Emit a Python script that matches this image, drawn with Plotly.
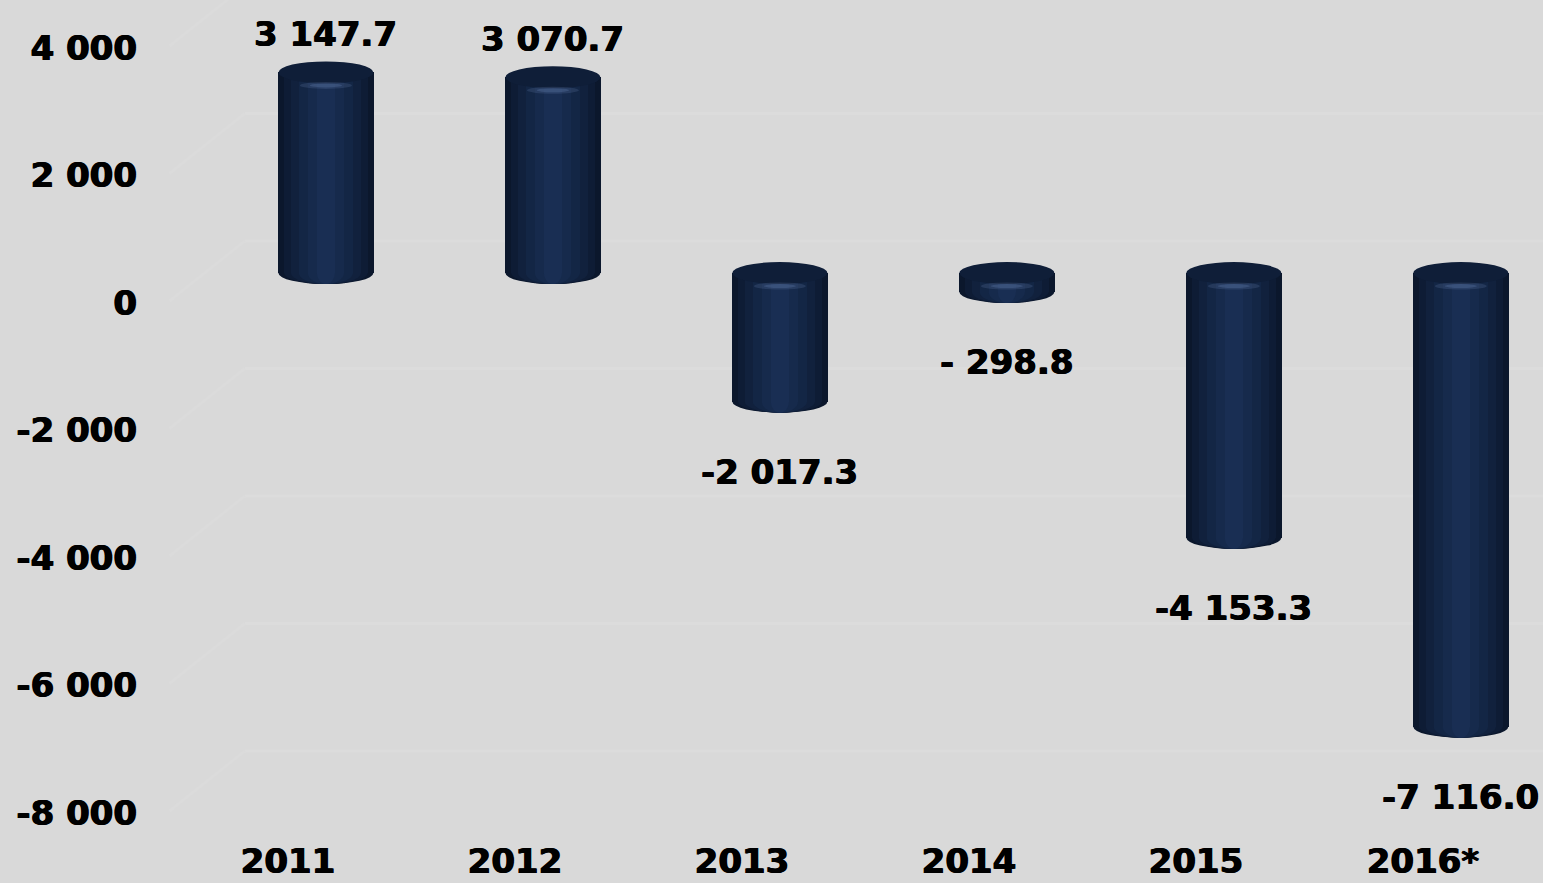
import plotly.graph_objects as go

# Balance by year (values shown above / below each column)
years = ["2011", "2012", "2013", "2014", "2015", "2016*"]
values = [3147.7, 3070.7, -2017.3, -298.8, -4153.3, -7116.0]
value_labels = ["3 147.7", "3 070.7", "-2 017.3", "- 298.8", "-4 153.3", "-7 116.0"]

# Value axis ticks
y_ticks = [4000, 2000, 0, -2000, -4000, -6000, -8000]
y_tick_labels = ["4 000", "2 000", "0", "-2 000", "-4 000", "-6 000", "-8 000"]

BG = "#d9d9d9"
FONT = dict(family="DejaVu Sans", size=34, color="#000000", weight="bold",
            shadow="0.6px 0 0 #000, -0.6px 0 0 #000")

# Columns sit a little deeper in the scene: shifted right of their category
# label and raised relative to the value scale.
DEPTH_X = 0.167          # category units
Y_RANGE = [-8345, 4753]  # value scale for tick labels
DEPTH_Y = 470            # value units the column floor is raised by
Y2_RANGE = [Y_RANGE[0] - DEPTH_Y, Y_RANGE[1] - DEPTH_Y]
WALL_PX = 62             # back-wall gridlines sit this many pixels higher

x_cat = list(range(len(years)))
x_bar = [i + DEPTH_X for i in x_cat]

# Cylinder body: stacked bars of decreasing width, lighter towards the middle
body_widths = [0.42, 0.37, 0.31, 0.24, 0.16, 0.08]
body_colors = ["#0b172c", "#0e1c35", "#11213d", "#132645", "#162a4c", "#192e53"]
CAP_W = 95   # px
CAP_H = 22   # px

fig = go.Figure()
for w, c in zip(body_widths, body_colors):
    fig.add_trace(go.Bar(
        x=x_bar, y=values, width=w, yaxis="y2",
        marker=dict(color=c, line=dict(width=0)),
        hoverinfo="skip", showlegend=False,
    ))

shapes = []
# faint back-wall gridlines and the floor/wall perspective joints
for t in y_ticks:
    shapes.append(dict(
        type="line", xref="paper", yref="y", ysizemode="pixel", yanchor=t,
        x0=0.068, x1=1, y0=WALL_PX, y1=WALL_PX,
        line=dict(color="#dcdcdc", width=3), layer="below",
    ))
    shapes.append(dict(
        type="line", xref="paper", yref="y", ysizemode="pixel", yanchor=t,
        x0=0.014, x1=0.068, y0=2, y1=WALL_PX,
        line=dict(color="#dbdbdb", width=3), layer="below",
    ))

for xb, v in zip(x_bar, values):
    top = max(v, 0)
    bottom = min(v, 0)
    # rounded base of the cylinder, shaded like the body
    for w, c in zip(body_widths, body_colors):
        half = CAP_W * w / body_widths[0] / 2
        shapes.append(dict(
            type="circle", xref="x", yref="y2",
            xsizemode="pixel", ysizemode="pixel", xanchor=xb, yanchor=bottom,
            x0=-half, x1=half, y0=-CAP_H / 2, y1=CAP_H / 2,
            fillcolor=c, line=dict(width=0), layer="below",
        ))
    # top face
    shapes.append(dict(
        type="circle", xref="x", yref="y2",
        xsizemode="pixel", ysizemode="pixel", xanchor=xb, yanchor=top,
        x0=-CAP_W / 2, x1=CAP_W / 2, y0=-CAP_H / 2, y1=CAP_H / 2,
        fillcolor="#0f1e38", line=dict(width=0), layer="above",
    ))
    # soft highlight where the top face rolls over into the side
    for hw, hh, op in [(26, 3.5, 0.25), (16, 2, 0.35)]:
        shapes.append(dict(
            type="circle", xref="x", yref="y2",
            xsizemode="pixel", ysizemode="pixel", xanchor=xb, yanchor=top,
            x0=-hw, x1=hw, y0=-13 - hh, y1=-13 + hh,
            fillcolor="#5a74a0", opacity=op, line=dict(width=0), layer="above",
        ))

annotations = []
for xb, v, lab in zip(x_bar, values, value_labels):
    annotations.append(dict(
        x=xb, y=v, xref="x", yref="y2", text=lab, showarrow=False,
        font=FONT, xanchor="center", yanchor="middle",
        yshift=38 if v >= 0 else -70,
    ))

fig.update_layout(
    width=1543, height=883,
    margin=dict(l=150, r=0, t=0, b=48),
    paper_bgcolor=BG, plot_bgcolor="rgba(0,0,0,0)",
    barmode="overlay", bargap=0, showlegend=False,
    xaxis=dict(
        range=[-0.608, 5.529], tickvals=x_cat, ticktext=years,
        showgrid=False, zeroline=False, showline=False, ticks="",
        tickfont=FONT, ticklabelstandoff=3, fixedrange=True, automargin=False,
    ),
    yaxis=dict(
        range=Y_RANGE, tickvals=y_ticks, ticktext=y_tick_labels,
        showgrid=False, zeroline=False, showline=False, ticks="",
        tickfont=FONT, ticklabelstandoff=12, fixedrange=True, automargin=False,
    ),
    yaxis2=dict(
        range=Y2_RANGE, overlaying="y", visible=False, fixedrange=True,
    ),
    shapes=shapes,
    annotations=annotations,
)

fig.write_html("out.html")
